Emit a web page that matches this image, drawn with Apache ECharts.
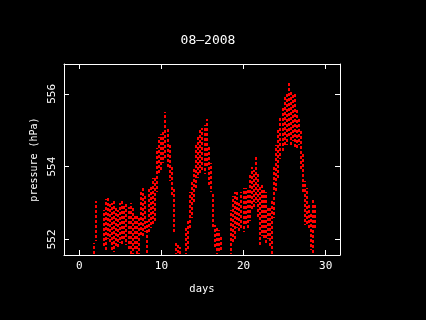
<!DOCTYPE html>
<html>
<head>
<meta charset="utf-8">
<script src="https://cdn.jsdelivr.net/npm/echarts@6/dist/echarts.min.js"></script>
<style>
  html, body { margin: 0; padding: 0; background: #000; }
  #chart { width: 426px; height: 320px; }
</style>
</head>
<body>
<div id="chart"></div>
<script>
// pressure readings, one column every 0.25 day (low / high of the scatter at that time)
const days = [
  1.75, 2.0, 2.25, 2.5, 2.75, 3.0, 3.25, 3.5, 3.75, 4.0, 4.25, 4.5, 4.75, 5.0, 5.25, 5.5, 5.75,
  6.0, 6.25, 6.5, 6.75, 7.0, 7.25, 7.5, 7.75, 8.0, 8.25, 8.5, 8.75, 9.0, 9.25, 9.5, 9.75,
  10.0, 10.25, 10.5, 10.75, 11.0, 11.25, 11.5, 11.75, 12.0, 12.25, 12.5, 12.75, 13.0, 13.25, 13.5, 13.75,
  14.0, 14.25, 14.5, 14.75, 15.0, 15.25, 15.5, 15.75, 16.0, 16.25, 16.5, 16.75, 17.0, 17.25, 17.5, 17.75,
  18.0, 18.25, 18.5, 18.75, 19.0, 19.25, 19.5, 19.75, 20.0, 20.25, 20.5, 20.75, 21.0, 21.25, 21.5, 21.75,
  22.0, 22.25, 22.5, 22.75, 23.0, 23.25, 23.5, 23.75, 24.0, 24.25, 24.5, 24.75, 25.0, 25.25, 25.5, 25.75,
  26.0, 26.25, 26.5, 26.75, 27.0, 27.25, 27.5, 27.75, 28.0, 28.25, 28.5, 28.75
]
const pLow = [
  551.6, 551.95, null, null, null, 551.8, 551.7, 552.0, 551.9, 551.7, 551.65, 551.8, 551.8, 551.9, 551.85, 552.0, 551.85,
  551.7, 551.6, 551.6, 551.7, 551.6, 551.6, 552.1, 552.1, 552.2, 551.6, 552.2, 552.3, 552.4, 552.5, 553.3, 553.8,
  553.9, 554.1, 554.2, 554.0, 553.6, 553.2, 552.2, 551.6, 551.6, 551.6, null, null, 551.6, 551.7, 552.3, 552.6,
  553.0, 553.4, 553.7, 553.8, 553.9, 553.8, 554.0, 553.5, 553.3, 552.3, 551.8, 551.6, 551.65, 551.7, null, null,
  null, null, 551.6, 551.9, 552.0, 552.3, 552.2, 552.3, 552.2, 552.4, 552.3, 552.5, 552.8, 552.9, 553.0, 552.6,
  551.85, 552.1, 552.0, 551.9, 552.0, 551.8, 551.6, 552.6, 553.3, 553.7, 554.2, 554.4, 554.6, 554.6, 554.8, 554.6,
  554.7, 554.5, 554.5, 554.6, 553.9, 553.3, 552.4, 552.4, 552.3, 551.7, 551.6, 552.3
]
const pHigh = [
  551.9, 553.05, null, null, null, 552.8, 553.1, 553.15, 553.0, 553.0, 553.05, 552.9, 552.8, 553.0, 553.05, 552.95, 553.0,
  552.9, 553.0, 552.85, 552.7, 552.65, 552.6, 553.3, 553.45, 553.2, 552.5, 553.4, 553.5, 553.7, 553.7, 554.5, 554.8,
  554.9, 555.0, 555.5, 555.1, 554.6, 554.0, 553.4, 551.9, 551.85, 551.8, null, null, 552.3, 552.5, 553.3, 553.6,
  554.0, 554.6, 554.8, 555.0, 555.05, 555.15, 555.3, 554.6, 554.1, 553.3, 552.4, 552.3, 552.25, 552.1, null, null,
  null, null, 552.8, 553.2, 553.3, 553.35, 553.0, 553.3, 553.4, 553.4, 553.35, 553.8, 554.0, 553.9, 554.25, 553.8,
  553.5, 553.55, 553.4, 553.3, 552.9, 552.9, 553.1, 554.0, 554.6, 555.0, 555.4, 555.6, 555.9, 556.0, 556.3, 556.1,
  556.0, 556.0, 555.6, 555.3, 555.0, 554.4, 553.6, 553.4, 553.0, 552.7, 553.1, 553.0
]
const xTicks = [0, 10, 20, 30]
const yTicks = [552, 554, 556]

const data = []
days.forEach((d, i) => {
  if (pLow[i] != null) data.push([d, pLow[i], pHigh[i]])
})

const mono = 'DejaVu Sans Mono'
const white = { color: '#fff', width: 1 }

function xAx(pos, labels) {
  return {
    type: 'value', position: pos, min: -1.86, max: 31.75,
    axisLine: { show: true, onZero: false, lineStyle: white },
    axisTick: { show: true, inside: true, length: 5, customValues: xTicks, lineStyle: white },
    axisLabel: { show: labels, customValues: xTicks, color: '#fff', fontFamily: mono, fontSize: 11, margin: 6 },
    splitLine: { show: false },
    name: labels ? 'days' : '', nameLocation: 'middle', nameGap: 29,
    nameTextStyle: { color: '#fff', fontFamily: mono, fontSize: 10.5 },
  }
}
function yAx(pos, labels) {
  return {
    type: 'value', position: pos, min: 551.57, max: 556.82,
    axisLine: { show: true, onZero: false, lineStyle: white },
    axisTick: { show: true, inside: true, length: 5, customValues: yTicks, lineStyle: white },
    axisLabel: { show: labels, customValues: yTicks, color: '#fff', fontFamily: mono, fontSize: 11, rotate: 90, margin: 6 },
    splitLine: { show: false },
    name: labels ? 'pressure (hPa)' : '', nameLocation: 'middle', nameGap: 22, nameRotate: 90,
    nameTextStyle: { color: '#fff', fontFamily: mono, fontSize: 10 },
  }
}

const chart = echarts.init(document.getElementById('chart'))
chart.setOption({
  backgroundColor: '#000',
  animation: false,
  title: {
    text: '08\u20132008', left: 203, top: 29, textAlign: 'center',
    textStyle: { color: '#fff', fontFamily: mono, fontSize: 13, fontWeight: 'normal' },
  },
  grid: { left: 64, right: 86, top: 64, bottom: 65 },
  xAxis: [xAx('bottom', true), xAx('top', false)],
  yAxis: [yAx('left', true), yAx('right', false)],
  series: [{
    type: 'custom',
    xAxisIndex: 0, yAxisIndex: 0,
    data: data,
    encode: { x: 0, y: [1, 2] },
    renderItem: (params, api) => {
      const lo = api.coord([api.value(0), api.value(1)])
      const hi = api.coord([api.value(0), api.value(2)])
      // snap to whole pixels so the dots stay crisp
      const x = Math.round(lo[0])
      return {
        type: 'line',
        shape: { x1: x, y1: Math.round(lo[1]), x2: x, y2: Math.round(hi[1]) },
        style: {
          stroke: '#ff0000', lineWidth: 2,
          lineDash: [3, 2], lineDashOffset: (params.dataIndex % 3) * 2,
        },
      }
    },
  }],
})
</script>
</body>
</html>
